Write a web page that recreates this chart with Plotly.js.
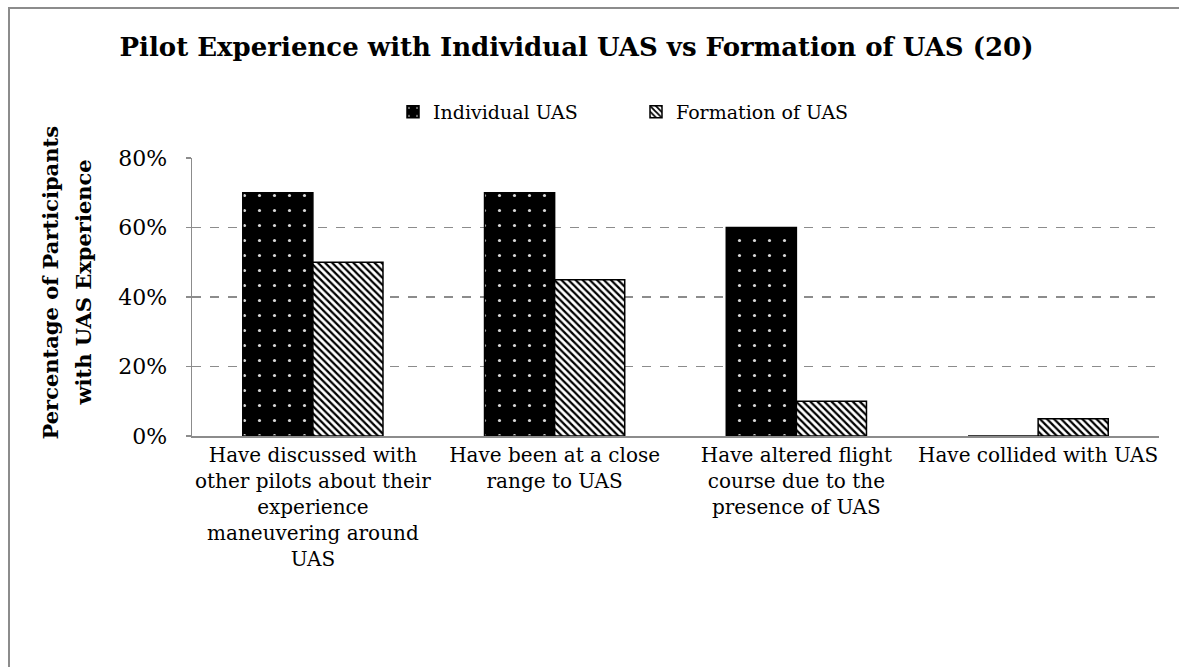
<!DOCTYPE html>
<html>
<head>
<meta charset="utf-8">
<script src="https://cdn.plot.ly/plotly-3.0.1.min.js"></script>
<style>
  html, body { margin: 0; padding: 0; background: #fff; }
  #frame { position: absolute; left: 8px; top: 7px; width: 1300px; height: 800px;
           border-left: 2px solid #8c8c8c; border-top: 2px solid #8c8c8c; box-sizing: border-box; }
  #chart { position: absolute; left: 0; top: 0; width: 1179px; height: 667px; }
</style>
</head>
<body>
<div id="frame"></div>
<div id="chart"></div>
<script>
const categories = [
  "Have discussed with<br>other pilots about their<br>experience<br>maneuvering around<br>UAS",
  "Have been at a close<br>range to UAS",
  "Have altered flight<br>course due to the<br>presence of UAS",
  "Have collided with UAS"
];
const individualUAS = [0.70, 0.70, 0.60, 0.00];
const formationUAS = [0.50, 0.45, 0.10, 0.05];
const seriesNames = ["Individual UAS", "Formation of UAS"];
const yTickValues = [0, 0.2, 0.4, 0.6, 0.8];
const yTickLabels = ["0%", "20%", "40%", "60%", "80%"];

const FONT = "DejaVu Serif, serif";

const traces = [
  {
    type: "bar", name: seriesNames[0], x: categories, y: individualUAS,
    marker: {
      color: "#000000",
      line: { color: "#000000", width: 1.5 },
      pattern: { shape: ".", bgcolor: "#000000", fgcolor: "#d8d8d8", size: 15, solidity: 0.035, fillmode: "replace" }
    },
    hoverinfo: "skip"
  },
  {
    type: "bar", name: seriesNames[1], x: categories, y: formationUAS,
    marker: {
      color: "#ffffff",
      line: { color: "#000000", width: 1.5 },
      pattern: { shape: "\\", bgcolor: "#ffffff", fgcolor: "#000000", size: 5, solidity: 0.45, fillmode: "replace" }
    },
    hoverinfo: "skip"
  }
];

const layout = {
  width: 1179, height: 667,
  paper_bgcolor: "rgba(0,0,0,0)", plot_bgcolor: "rgba(0,0,0,0)",
  margin: { l: 192, r: 20, t: 158, b: 231 },
  font: { family: FONT, color: "#000000", size: 20 },
  title: {
    text: "<b>Pilot Experience with Individual UAS vs Formation of UAS (20)</b>",
    font: { family: FONT, size: 26, color: "#000000" },
    x: 0.489, xanchor: "center", y: 0.93, yanchor: "middle"
  },
  barmode: "group", bargap: 0.42, bargroupgap: 0,
  showlegend: true,
  legend: {
    orientation: "h", x: (636 - 192) / 967, xanchor: "center", y: 1 + (158 - 112) / 278, yanchor: "middle",
    font: { family: FONT, size: 19, color: "#000000" },
    itemwidth: 30, tracegroupgap: 0, entrywidth: 198, entrywidthmode: "pixels"
  },
  xaxis: {
    type: "category", showline: true, linecolor: "#8c8c8c", linewidth: 2,
    ticks: "", tickfont: { family: FONT, size: 20, color: "#000000" },
    showgrid: false, zeroline: false, automargin: false
  },
  yaxis: {
    range: [0, 0.8], tickvals: yTickValues, ticktext: yTickLabels,
    showline: true, linecolor: "#8c8c8c", linewidth: 1.5,
    ticks: "outside", ticklen: 5, tickcolor: "#8c8c8c", tickwidth: 1.5,
    ticklabelstandoff: 14,
    tickfont: { family: FONT, size: 22, color: "#000000" },
    showgrid: true, gridcolor: "#8c8c8c", griddash: "dash", gridwidth: 1.2,
    zeroline: false, automargin: false
  },
  annotations: [
    { xref: "paper", yref: "paper", x: (50 - 192) / 967, y: (436 - 282.5) / 278, xanchor: "center", yanchor: "middle",
      text: "<b>Percentage of Participants</b>", textangle: -90, showarrow: false,
      font: { family: FONT, size: 21, color: "#000000" } },
    { xref: "paper", yref: "paper", x: (83 - 192) / 967, y: (436 - 282.5) / 278, xanchor: "center", yanchor: "middle",
      text: "<b>with UAS Experience</b>", textangle: -90, showarrow: false,
      font: { family: FONT, size: 21, color: "#000000" } }
  ]
};

Plotly.newPlot("chart", traces, layout, { displayModeBar: false, staticPlot: true });
</script>
</body>
</html>
